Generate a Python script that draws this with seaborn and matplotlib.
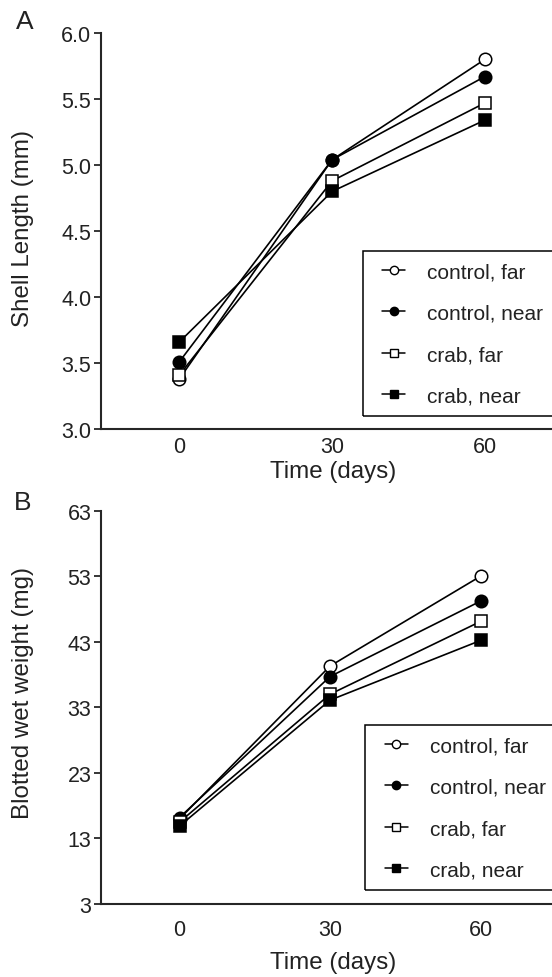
import pandas as pd
import seaborn as sns
import matplotlib.pyplot as plt
from matplotlib.lines import Line2D
from matplotlib.patches import Rectangle

# Sampling days
days = [0, 30, 60]
groups = ['control, far', 'control, near', 'crab, far', 'crab, near']

# Panel A: shell length (mm)
shell_control_far = [3.38, 5.04, 5.80]
shell_control_near = [3.51, 5.04, 5.67]
shell_crab_far = [3.41, 4.88, 5.47]
shell_crab_near = [3.66, 4.80, 5.34]

# Panel B: blotted wet weight (mg)
weight_control_far = [16.0, 39.3, 53.0]
weight_control_near = [16.2, 37.7, 49.2]
weight_crab_far = [15.5, 35.0, 46.1]
weight_crab_near = [14.9, 34.1, 43.2]

shell_ticks = [3.0, 3.5, 4.0, 4.5, 5.0, 5.5, 6.0]
shell_tick_labels = ['3.0', '3.5', '4.0', '4.5', '5.0', '5.5', '6.0']
weight_ticks = [3, 13, 23, 33, 43, 53, 63]
weight_tick_labels = ['3', '13', '23', '33', '43', '53', '63']


def long_table(series):
    rows = []
    for g, vals in zip(groups, series):
        for d, v in zip(days, vals):
            rows.append({'day': d, 'value': v, 'group': g})
    return pd.DataFrame(rows)


shell_df = long_table([shell_control_far, shell_control_near, shell_crab_far, shell_crab_near])
weight_df = long_table([weight_control_far, weight_control_near, weight_crab_far, weight_crab_near])

styles = {
    'control, far': dict(marker='o', markerfacecolor='white'),
    'control, near': dict(marker='o', markerfacecolor='black'),
    'crab, far': dict(marker='s', markerfacecolor='white'),
    'crab, near': dict(marker='s', markerfacecolor='black'),
}

sns.set_style('ticks')
plt.rcParams['font.family'] = ['Liberation Sans', 'DejaVu Sans']

W, H = 552, 978
fig = plt.figure(figsize=(W / 100, H / 100), dpi=100)
ax_a = fig.add_axes([0.183, 0.5603, 0.817, 0.4049])
ax_b = fig.add_axes([0.183, 0.0746, 0.817, 0.4022])


def draw_panel(ax, df, ylabel, ticks, tick_labels, xlim, xpad, xlabel_y, ylabel_y, box):
    for g in groups:
        sns.lineplot(data=df[df['group'] == g], x='day', y='value', ax=ax,
                     color='black', linewidth=1.2, markersize=9,
                     markeredgecolor='black', markeredgewidth=1.1,
                     **styles[g])
    ax.set_xlim(*xlim)
    ax.set_ylim(ticks[0], ticks[-1])
    ax.set_xticks(days)
    ax.set_yticks(ticks)
    ax.set_yticklabels(tick_labels)
    sns.despine(ax=ax)
    for s in ['left', 'bottom']:
        ax.spines[s].set_linewidth(1.5)
    ax.tick_params(axis='x', length=0, pad=xpad, labelsize=15.5, colors='#222222')
    ax.tick_params(axis='y', length=5, width=1.1, pad=2, labelsize=15.5, colors='#222222')
    ax.tick_params(axis='both', color='black')
    ax.set_xlabel('Time (days)', fontsize=17.4, va='center', color='#222222')
    ax.xaxis.set_label_coords(0.514, xlabel_y)
    ax.set_ylabel(ylabel, fontsize=17.4, va='center', color='#222222')
    ax.yaxis.set_label_coords(-0.173, ylabel_y)

    # legend frame (runs off the right edge as in the original)
    x0, top, bottom = box
    fig.patches.append(Rectangle((x0 / W, 1 - bottom / H), (W + 10 - x0) / W, (bottom - top) / H,
                                 transform=fig.transFigure, fill=False,
                                 edgecolor='black', linewidth=1.1, clip_on=False))
    handles = [Line2D([0], [0], color='black', linewidth=1.1, markersize=6,
                      markeredgecolor='black', markeredgewidth=1.0, **styles[g])
               for g in groups]
    leg = ax.legend(handles=handles, labels=groups, loc='upper left',
                    bbox_to_anchor=((x0 + 8) / W, 1 - top / H),
                    bbox_transform=fig.transFigure, frameon=False,
                    borderaxespad=0, fontsize=15,
                    labelspacing=1.07, handlelength=1.1, handletextpad=1.05,
                    borderpad=0.55)
    for t in leg.get_texts():
        t.set_color('#222222')


draw_panel(ax_a, shell_df, 'Shell Length (mm)', shell_ticks, shell_tick_labels,
           (-15.4, 73.2), 5, -0.106, 0.51, (362.6, 252, 417))
draw_panel(ax_b, weight_df, 'Blotted wet weight (mg)', weight_ticks, weight_tick_labels,
           (-15.65, 74.25), 11, -0.1475, 0.54, (365.4, 726, 891))

fig.text(25 / W, 1 - 21.7 / H, 'A', fontsize=19, ha='center', va='center', color='#222222')
fig.text(23 / W, 1 - 503 / H, 'B', fontsize=19, ha='center', va='center', color='#222222')

fig.savefig('out.png', dpi=100)
